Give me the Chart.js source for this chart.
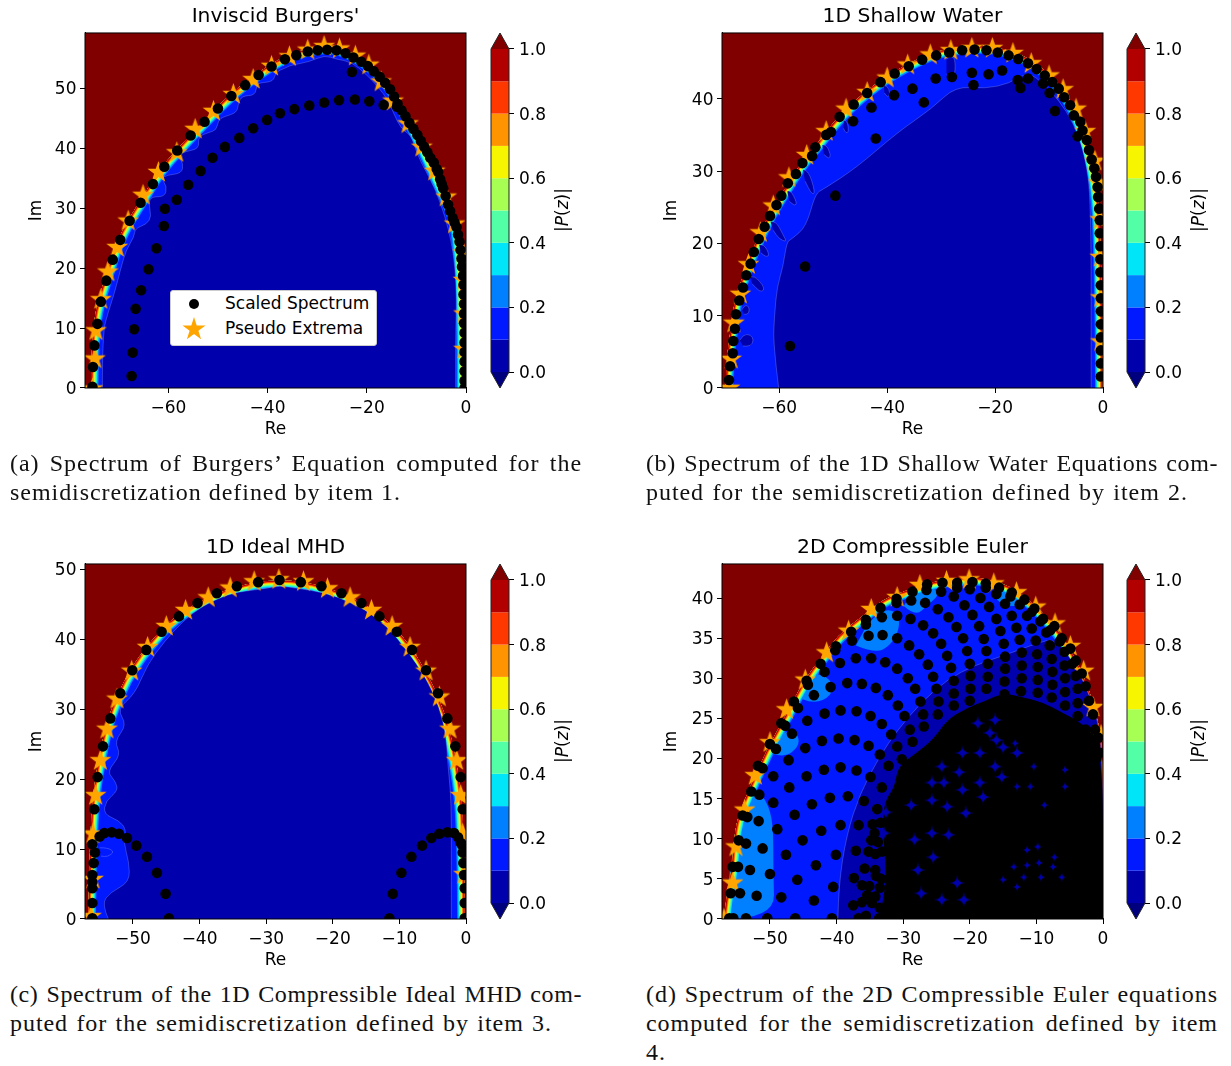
<!DOCTYPE html>
<html>
<head>
<meta charset="utf-8">
<script src="https://cdn.jsdelivr.net/npm/chart.js@4"></script>
<style>
    html, body { margin: 0; background: #fff; }
    body { position: relative; width: 1231px; height: 1066px; overflow: hidden; }
    canvas { position: absolute; }
    .cap { position: absolute; height: 29px; font: 24px/29px "Liberation Serif", serif; letter-spacing: .95px; color: #111; text-align: justify; text-align-last: justify; }
    .cap.free { text-align-last: left; }
    .barlabel { position: absolute; font: 17px "DejaVu Sans", sans-serif; color: #000; white-space: nowrap; transform: translate(-50%, -50%) rotate(-90deg); }
    #legend { position: absolute; left: 170px; top: 290px; width: 205px; height: 54px; background: #fff; border: 1px solid #ccc; border-radius: 3px; font: 17px "DejaVu Sans", sans-serif; color: #000; z-index: 3; }
    #legend span { position: absolute; left: 54px; white-space: nowrap; }
    #legend svg { position: absolute; left: 10px; }
</style>
</head>
<body>
<canvas id="burgers" width="551" height="445" style="left:0;top:0"></canvas>
<canvas id="burgersBar" width="100" height="445" style="left:481px;top:0"></canvas>
<canvas id="shallow" width="560" height="445" style="left:632px;top:0"></canvas>
<canvas id="shallowBar" width="100" height="445" style="left:1117px;top:0"></canvas>
<canvas id="mhd" width="551" height="445" style="left:0;top:531px"></canvas>
<canvas id="mhdBar" width="100" height="445" style="left:481px;top:531px"></canvas>
<canvas id="euler" width="560" height="445" style="left:632px;top:531px"></canvas>
<canvas id="eulerBar" width="100" height="445" style="left:1117px;top:531px"></canvas>

<div class="barlabel" style="left:562px;top:210px">|<i>P</i>(<i>z</i>)|</div>
<div class="barlabel" style="left:1198px;top:210px">|<i>P</i>(<i>z</i>)|</div>
<div class="barlabel" style="left:562px;top:741px">|<i>P</i>(<i>z</i>)|</div>
<div class="barlabel" style="left:1198px;top:741px">|<i>P</i>(<i>z</i>)|</div>

<div id="legend">
    <svg width="28" height="52" viewBox="0 0 28 52" style="top:0">
        <circle cx="13" cy="13" r="5" fill="#000"/>
        <polygon fill="#ffa500" points="13,26 15.7,34.5 24.5,34.5 17.4,39.8 20.1,48.2 13,43 5.9,48.2 8.6,39.8 1.5,34.5 10.3,34.5"/>
    </svg>
    <span style="top:2px">Scaled Spectrum</span>
    <span style="top:27px">Pseudo Extrema</span>
</div>

<div class="cap" style="left:10px;top:449px;width:572px">(a) Spectrum of Burgers’ Equation computed for the</div>
<div class="cap" style="left:10px;top:478px;width:391px">semidiscretization defined by item 1.</div>
<div class="cap" style="left:646px;top:449px;width:572px;letter-spacing:.6px">(b) Spectrum of the 1D Shallow Water Equations com-</div>
<div class="cap" style="left:646px;top:478px;width:542px">puted for the semidiscretization defined by item 2.</div>
<div class="cap" style="left:10px;top:980px;width:572px;letter-spacing:.6px">(c) Spectrum of the 1D Compressible Ideal MHD com-</div>
<div class="cap" style="left:10px;top:1009px;width:542px">puted for the semidiscretization defined by item 3.</div>
<div class="cap" style="left:646px;top:980px;width:572px">(d) Spectrum of the 2D Compressible Euler equations</div>
<div class="cap" style="left:646px;top:1009px;width:572px">computed for the semidiscretization defined by item</div>
<div class="cap free" style="left:646px;top:1038px;width:572px">4.</div>

<script>
// colour levels of |P(z)|
const levelEdges = [0, 0.1, 0.2, 0.3, 0.4, 0.5, 0.6, 0.7, 0.8, 0.9, 1]
const levelColors = ['#0000ad', '#0019ff', '#0080ff', '#00e5f8', '#52ffa6', '#a6ff52', '#f8f500', '#ff9400', '#ff3800', '#b20000']
const barTicks = [0, 0.2, 0.4, 0.6, 0.8, 1]

// Inviscid Burgers'
const burgersXTicks = [-60, -40, -20, 0]
const burgersYTicks = [0, 10, 20, 30, 40, 50]
const burgersSpectrum = [[-75.3,0.2],[-75.2,3.5],[-74.9,7.1],[-74.3,10.7],[-73.6,14.4],[-72.5,17.9],[-71.2,21.4],[-69.7,24.7],[-67.8,27.9],[-65.6,30.9],[-63.1,34],[-60.8,36.9],[-58.2,39.6],[-55.5,42.1],[-52.7,44.4],[-50,46.6],[-47.3,48.7],[-44.5,50.5],[-41.8,52.2],[-39.2,53.6],[-36.5,54.8],[-34.2,55.5],[-31.9,56.1],[-29.9,56.3],[-28,56.4],[-26.1,56.3],[-24.3,55.8],[-22.7,55.1],[-21.1,54.4],[-19.8,53.7],[-18.6,52.8],[-17.4,51.9],[-16.3,50.9],[-15.3,49.8],[-14.5,48.6],[-13.8,47.4],
    [-13,46.3],[-12.2,45.3],[-11.4,44.2],[-10.6,43.2],[-9.8,42.2],[-9.1,41.2],[-8.4,40.2],[-7.8,39.3],[-7.2,38.4],[-6.5,37.6],[-5.9,36.5],[-5.6,36],[-5.2,34.8],[-4.9,34],[-4.6,33.3],[-4.1,32],[-3.6,30.6],[-3.2,29.5],[-2.7,28.4],[-2.3,27.6],[-1.9,26.8],[-1.6,25.6],[-1.3,24.4],[-1.1,23],[-0.9,21.6],[-0.8,20.2],[-0.6,18.7],[-0.5,17.2],[-0.5,15.6],[-0.4,14],[-0.4,12.4],[-0.4,10.8],[-0.3,9.2],[-0.3,7.6],[-0.3,6],[-0.3,4.4],[-0.3,2.8],[-0.3,1.2],[-0.3,0],
    [-67.4,2],[-67.2,5.9],[-66.9,9.8],[-66.6,13.2],[-65.5,16.3],[-64,19.8],[-62.4,23.3],[-60.9,27],[-60.7,29.9],[-58.3,31.4],[-56,33.9],[-53.5,36.2],[-51.1,38.4],[-48.6,40.2],[-45.7,41.7],[-42.9,43.3],[-40.1,44.7],[-37.5,45.8],[-34.6,46.5],[-31.6,47.1],[-28.6,47.6],[-25.6,48],[-22.4,48.1],[-19.5,47.8],[-16.6,47.2],[-13.9,46.9],[-23,52.7]]
const burgersExtrema = [[-75.3,0],[-74.8,5],[-74.6,9.7],[-73.6,14.9],[-72.2,19.5],[-70.3,23.6],[-68.1,28],[-65.1,32.3],[-62,36.1],[-58.3,39.4],[-54.6,43.3],[-50.9,46.3],[-46.9,49.1],[-42.9,51.6],[-39.2,53.8],[-35.6,55.4],[-31.9,56.5],[-28.6,57.1],[-25.5,56.7],[-22.3,55.5],[-19.6,54],[-17.1,51.2],[-14.7,48],[-11.7,44.2],[-8.9,40.3],[-6.3,36.3],[-4,32],[-2.3,27.5],[-0.6,22.7],[-0.5,18.1],[-0.4,12.5],[-0.4,6.6]]
const burgersEdge = [[-75.6,0],[-75.5,6.3],[-74.9,11.8],[-73.8,15.7],[-72,20.2],[-70.5,24.1],[-68.2,28],[-65.1,31.9],[-62,36.3],[-58.1,39.9],[-54.3,43.3],[-50.8,46.3],[-47,49.4],[-43.1,51.9],[-39.2,54.1],[-35.4,55.8],[-31.5,56.6],[-28.5,57],[-25.4,56.7],[-22.3,55.5],[-19.6,54.1],[-16.9,52.2],[-14,49],[-11.5,45],[-9,41],[-6.2,36],[-4,32],[-2.6,29.5],[-1.7,26.8],[-1,22],[-0.6,15],[-0.4,9],[-0.4,0]]
const burgersCore = [[-73.3,0],[-73.3,9.1],[-72,13],[-70.9,15.7],[-69.5,20.2],[-68.5,23],[-66.9,25.2],[-66.7,26.6],[-64.4,27.3],[-63.4,28.6],[-64,30.8],[-63.4,31.9],[-60.7,31.9],[-60.3,33.6],[-61.4,34.9],[-60.3,35.5],[-57.3,35.8],[-57,37.4],[-58,38.8],[-56.7,39.4],[-53.8,39.9],[-54,41.9],[-51.9,42.6],[-50.3,43],[-49.9,44.7],[-48.9,45.2],[-46.2,45.9],[-45.9,47.4],[-45.2,48.7],[-42.5,48.8],[-42.2,50.5],[-41.5,50.9],[-38.8,51.1],[-38.4,52.7],[-36.5,53.3],[-35.4,53.8],[-31.5,54.4],[-28.5,55.5],[-26.1,54.8],[-23.1,54.4],[-20,52.2],[-17.7,50.2],[-15.7,48],[-14.6,45.8],[-13,43.1],[-11.1,42.2],[-9.9,39.1],[-8.4,36.6],[-6.1,33],[-4.2,28.5],[-3,24.6],[-2.2,20.2],[-1.9,14.6],[-2.1,9.1],[-2.1,0]]

// 1D Shallow Water
const shallowXTicks = [-60, -40, -20, 0]
const shallowYTicks = [0, 10, 20, 30, 40]
const shallowSpectrum = [[-69.3,1.1],[-69.1,3],[-68.6,4.8],[-68.5,6.5],[-68.2,8.2],[-68,10.2],[-67.4,12.1],[-66.7,13.9],[-66.1,15.6],[-65.3,17.2],[-64.7,18.8],[-63.8,20.6],[-62.7,22.3],[-61.7,23.8],[-60.5,25.3],[-59.6,26.6],[-58.4,28.3],[-56.9,29.6],[-55.7,31.1],[-53.9,32.1],[-53.3,33.3],[-51.3,35],[-50.4,35.4],[-48.8,37.5],[-46.3,36.9],[-46.2,39.2],[-43.7,40.8],[-42.9,38.8],[-41.2,42.3],[-38.7,40.5],[-38.6,43.5],[-36,44.5],[-35.3,41.4],[-33.5,45.4],[-33.2,39.5],[-30.9,46],[-31,42.8],[-28.5,46.4],[-28,43],[-26.1,46.7],[-23.8,46.8],[-21.6,46.7],[-19.5,46.4],[-17.5,46],[-15.7,45.5],[-13.9,44.9],[-12.3,44.1],[-10.8,43.2],[-9.4,42.3],[-8.2,41.4],[-7.2,40.2],[-6.1,39.1],[-5.4,37.7],[-4.2,36.8],[-3.8,35.6],[-3,34.3],[-2.6,32.9],[-2.1,31.6],[-1.6,30.4],[-1.3,29.2],[-1,27.8],[-0.9,26.4],[-0.7,24.8],[-0.6,23.2],[-0.6,21.4],[-0.5,19.6],[-0.5,17.8],[-0.5,16],[-0.4,14.2],[-0.4,12.4],[-0.4,10.6],[-0.4,8.8],[-0.4,7],[-0.4,5.2],[-0.4,3.4],[-0.4,1.6],
    [-58,5.8],[-55.2,16.8],[-49.6,26.6],[-42.1,34.5],[-24.3,43.6],[-24,41.9],[-21.2,43.4],[-18.7,43.9],[-15.8,42.6],[-15.3,41.5],[-13.9,42.8],[-11.1,42.1],[-9.9,40.8],[-8.9,38.3],[-4.7,34.8]]
const shallowExtrema = [[-69.2,0.1],[-68.9,4.1],[-68.4,9.1],[-67.2,13.1],[-65.7,17.2],[-63.5,21.6],[-61.1,25.3],[-58.2,29.2],[-54.9,32.3],[-51.3,35.6],[-47.6,38.7],[-43.7,41],[-40,43],[-36.2,44.8],[-32,46.2],[-28.2,46.8],[-24.3,47.1],[-20.5,47.1],[-16.7,46.4],[-13.3,45],[-10,43.3],[-7.4,41.4],[-5,38.7],[-3.3,35.6],[-1.5,31.5],[-0.8,28.5],[-0.5,23.4],[-0.5,18.2],[-0.4,12.6],[-0.4,6.5]]
const shallowEdge = [[-69.9,0],[-69.8,3.8],[-69.1,7.5],[-68.5,11.2],[-67.4,14],[-66,17.2],[-63.9,20.9],[-61.8,24.1],[-59.3,27.1],[-56.5,30.6],[-52.9,33.8],[-50.1,36.6],[-47.2,38.9],[-43.7,41.2],[-39.8,43.3],[-35.9,44.9],[-32,46.3],[-28.1,47],[-24.2,47.3],[-20.3,47.2],[-16.4,46.5],[-13.2,45.3],[-10,43.5],[-7.5,41.4],[-5,38.4],[-3.3,34.7],[-1.8,30.6],[-0.8,26],[-0.4,19],[-0.1,7.5],[-0.1,0]]
const shallowCore = [[-60.1,0],[-61.1,6.1],[-60.9,9.8],[-60.4,14],[-59.3,16.7],[-58.6,20.2],[-57.7,20.6],[-55,22.3],[-53.3,26.9],[-51.8,27.5],[-45.8,30.4],[-38,35.4],[-31.6,38.7],[-27.4,41.7],[-21.7,41.4],[-17.4,42.1],[-13.9,43.7],[-11,42.1],[-8.2,39.8],[-5.4,36.6],[-3.3,32],[-2.2,26],[-2.2,0]]
const shallowIslands = [
    [[-67.3,6.6],[-66.7,7.4],[-65.3,7.4],[-64.7,6.6],[-65.3,5.8],[-66.7,5.8]],
    [[-65.3,15.4],[-64.5,15.5],[-63,14.2],[-62.8,13.5],[-63.6,13.3],[-65,14.4]],
    [[-63.7,19.8],[-62.8,19.9],[-61.8,18.4],[-62.4,18.1],[-63.4,18.7]],
    [[-66.9,10.8],[-66.5,11.4],[-65.8,11.4],[-65.5,10.8],[-65.8,10.2],[-66.5,10.2]],
    [[-58.5,27.2],[-57.9,27.4],[-56.7,25.6],[-57.1,25.2],[-58.1,25.8]],
    [[-52,33.6],[-51.3,33.7],[-50.4,32.2],[-50.8,31.7],[-51.7,32.3]],
    [[-48,37],[-47.4,37],[-47.1,35.5],[-47.6,35.2],[-48.1,35.9]],
    [[-29,45.5],[-28.2,45.9],[-27.4,45.5],[-27.4,43.4],[-28.2,43],[-29,43.4]],
    [[-40.6,41.8],[-40,41.9],[-39.4,40.7],[-39.9,40.2],[-40.5,40.8]],
    [[-61.6,23],[-60.6,23.1],[-59.3,21.2],[-58.6,20.2],[-60,20.6],[-61.1,21.8]],
    [[-55.6,30.2],[-54.6,30.2],[-53.3,27],[-54,26.8],[-55.2,28.6]]
]

// 1D Ideal MHD
const mhdXTicks = [-50, -40, -30, -20, -10, 0]
const mhdYTicks = [0, 10, 20, 30, 40, 50]
const mhdSpectrum = [[-56.1,0.1],[-56.1,2.3],[-56.1,4.4],[-56.1,5.3],[-56.1,6.3],[-55.9,8],[-55.7,9.5],[-56.1,10.7],[-55.8,15.7],[-55.3,20.3],[-54.5,24.7],[-53.4,28.7],[-51.9,32.3],[-50.1,35.6],[-48,38.5],[-45.7,41.1],[-43.1,43.3],[-40.3,45.2],[-37.4,46.6],[-34.4,47.6],[-31.2,48.2],[-28,48.5],[-24.8,48.2],[-21.7,47.6],[-18.7,46.6],[-15.7,45.2],[-13,43.3],[-10.4,41.1],[-8.1,38.5],[-6,35.6],[-4.2,32.3],[-2.8,28.7],[-1.6,24.7],[-0.8,20.3],[-0.5,15.7],[-0.6,10.6],[-0.5,9.5],[-0.4,8],[-0.3,6.3],[-0.2,4.4],[-0.2,2.3],[-0.2,0.1],
    [-55,11.8],[-54.3,12.3],[-53.2,12.4],[-52.1,12.2],[-50.9,11.6],[-49.5,10.5],[-47.9,8.9],[-46.4,6.6],[-45.1,3.6],[-44.6,0.1],
    [-11.5,0.1],[-11,3.6],[-9.7,6.6],[-8.2,8.9],[-6.6,10.5],[-5.2,11.6],[-4,12.2],[-2.8,12.4],[-1.8,12.3],[-1.2,11.7],[-0.8,10.9]]
const mhdExtrema = [[-56.3,0.5],[-56,5.8],[-56,12.3],[-55.6,17.8],[-54.9,22.8],[-53.9,27.3],[-52.4,31.6],[-50.2,35.6],[-47.8,39],[-45,42],[-42.1,44.3],[-38.7,46.1],[-35.4,47.5],[-31.8,48.4],[-28.1,48.7],[-24.4,48.4],[-20.8,47.4],[-17.4,46.1],[-14.2,44.3],[-11.1,42],[-8.4,39],[-6,35.6],[-4,31.9],[-2.4,27.3],[-1.4,22.8],[-0.8,17.8],[-0.5,12.3],[-0.3,6.5]]
const mhdEdge = [[-56.7,0],[-56.6,5.3],[-56.4,12.1],[-56,17.9],[-55.2,22.7],[-54,28.1],[-52.2,32.4],[-50.2,36.1],[-47.6,39.4],[-44.8,42.4],[-41.9,44.4],[-38.4,46.2],[-35,47.4],[-31.6,48.2],[-28.1,48.5],[-24.7,48.3],[-21.2,47.5],[-17.5,46.2],[-14,44.3],[-10.9,41.9],[-8.3,39],[-6,35.3],[-4.1,31.7],[-2.5,27.3],[-1.4,22.3],[-0.6,16.9],[-0.3,9.7],[-0.2,0]]
const mhdCore = [[-53.7,0],[-54.7,2.2],[-53.4,3.8],[-50.5,5.3],[-50.6,8.2],[-51.4,10.9],[-51,12.8],[-52.1,14.1],[-54.4,15],[-54.1,16.9],[-52.2,18.4],[-52.7,19.8],[-53.9,21.1],[-51.8,23.5],[-52.8,25.4],[-50.9,27.8],[-52.4,30],[-49.7,32.2],[-47.9,36.3],[-45.3,39.7],[-42.5,42.6],[-39.6,44.8],[-35.6,46.5],[-32.7,47],[-29.8,47.3],[-28.1,47.7],[-25.2,47.3],[-21.2,46.7],[-17.2,45.3],[-13.2,43.1],[-10.3,40.2],[-7.4,36.5],[-5.1,32.9],[-3.1,27.6],[-2.7,21.8],[-2.2,16.9],[-2.2,7.3],[-2.2,0]]
const mhdIsland = [[-55,10.2],[-53.8,10.2],[-52.8,9.6],[-53.8,8.9],[-54.8,9]]

// 2D Compressible Euler
const eulerXTicks = [-50, -40, -30, -20, -10, 0]
const eulerYTicks = [0, 5, 10, 15, 20, 25, 30, 35, 40]
const eulerSpectrum = [[-56.1,0.1],[-55.5,0.1],[-53.6,0.1],[-50.4,0.1],[-46.2,0.1],[-40.7,0.1],[-36.7,0.1],[-33.6,0.1],[-55.9,3.2],[-54.5,3.2],[-52,2.9],[-48.3,2.7],[-43.4,2.3],[-37.5,1.7],[-36.2,2.1],[-34.7,2],[-40.5,4],[-45.9,4.9],[-50,5.6],[-53,6.1],[-55.6,6.5],[-54.8,6.5],[-43.1,6.7],[-47.6,8],[-51.1,8.8],[-53.6,9.4],[-54.7,9.8],[-40.1,8],[-37.1,8.5],[-35.2,8.4],[-34.2,8.1],[-37.4,5.1],[-36.2,4.2],[-35.1,4.1],[-35.8,6.3],[-34.2,6.1],[-34.1,5.4],[-33.5,3.9],[-45.1,9.8],[-42.3,11],[-48.9,11.2],[-51.7,12.2],[-54.1,12.9],[-53.4,12.7],[-39.4,11.7],[-36.7,11.7],[-34.3,10.7],[-46.3,13],[-43.7,14.3],[-41,15.1],[-38.3,15.3],[-35.9,14.7],[-33.9,13.7],[-49.5,14.5],[-51.6,15.5],[-52.8,15.9],[-47.1,16.4],[-44.5,17.8],[-41.9,18.6],[-39.4,18.9],[-37,18.5],[-34.9,17.7],[-33.2,16.4],[-49.5,17.8],[-51.1,18.8],[-51.8,19.1],[-47.2,19.8],[-44.7,21.3],[-42.2,22.2],[-39.7,22.5],[-37.3,22.3],[-35.2,21.6],[-33.5,20.5],[-32.2,19.1],[-49.1,21.2],[-50,21.8],[-46.7,23.1],[-44.4,24.7],[-41.8,25.6],[-39.4,26],[-37,25.9],[-34.9,25.3],[-33.2,24.3],[-31.8,23],[-30.9,21.5],[-30.2,19.9],[-48.3,24.4],[-47.7,24.1],[-46.4,27.1],[-45.8,26.3],[-43.4,27.9],[-40.9,28.9],[-38.4,29.4],[-36.2,29.3],[-34.1,28.8],[-32.3,27.9],[-30.8,26.6],[-29.8,25.3],[-29,23.6],[-28.6,22.1],[-44.5,29.7],[-44.3,29.2],[-42.4,31.8],[-41.8,30.8],[-39.5,31.9],[-37.1,32.5],[-34.8,32.5],[-32.7,32],[-30.9,31.2],[-29.3,30],[-28.2,28.7],[-27.4,27.1],[-27,25.5],[-26.9,24],[-40.1,34],[-40.2,33.5],[-37.8,35.8],[-37.7,34.7],[-35.2,35.3],[-33.1,35.4],[-30.9,35],[-29.1,34.1],[-27.6,33],[-26.3,31.7],[-25.5,30.2],[-25,28.7],[-24.7,27.1],[-24.8,25.5],[-35.6,37.3],[-35.6,36.7],[-33.4,38.8],[-33.2,37.6],[-30.9,37.8],[-28.9,37.4],[-27,36.6],[-25.5,35.6],[-24.3,34.3],[-23.4,32.8],[-22.8,31.3],[-22.4,29.7],[-22.4,28.1],[-22.4,26.6],[-31,39.9],[-31,39.4],[-28.6,40.8],[-28.8,39.7],[-26.7,39.4],[-24.8,38.6],[-23.2,37.6],[-22,36.4],[-21,35],[-20.4,33.4],[-20,31.8],[-19.9,30.3],[-19.9,28.7],[-20,27.2],[-26.4,41.7],[-26.5,41],[-24.3,40.8],[-24.1,41.9],[-22.4,40.2],[-20.8,39.1],[-19.6,37.9],[-18.6,36.5],[-17.9,34.9],[-17.5,33.4],[-17.3,31.8],[-17.3,30.2],[-17.5,28.7],[-21.9,41.9],[-21.9,41.3],[-20,41.1],[-19.6,42],[-18.4,40],[-17.1,38.9],[-16,37.4],[-15.4,35.9],[-14.9,34.3],[-14.7,32.7],[-14.7,31.2],[-14.8,29.6],[-14.8,28],[-17.6,41.8],[-17.6,41.3],[-15.6,41.3],[-16,40.5],[-14.7,39.3],[-13.7,37.8],[-13,36.3],[-12.5,34.8],[-12.2,33.2],[-12.2,31.6],[-12.2,30],[-12.3,28.4],[-13.7,40.7],[-13.9,40.2],[-11.8,39.8],[-12.5,39.2],[-11.4,37.8],[-10.7,36.2],[-10.1,34.7],[-9.9,33],[-9.8,31.4],[-9.8,29.8],[-9.8,28.2],[-10.3,38.7],[-10.7,38.3],[-9,37.4],[-9.4,37.1],[-7.3,36.5],[-7.9,36],[-8.5,35.7],[-8,34.1],[-7.7,32.4],[-7.6,30.8],[-7.6,29.2],[-7.7,27.6],[-6.2,35],[-6.5,34.6],[-4.9,33.7],[-5.8,33.3],[-5.8,31.6],[-5.7,30],[-5.7,28.3],[-5.7,26.6],[-4.1,32.2],[-4.6,31.8],[-3.2,30.6],[-4.1,30.3],[-2.6,29],[-3.8,28.7],[-2.1,27.2],[-3.8,26.9],[-1.5,25.5],[-3.8,25.3],[-1.2,23.6],[-2.6,23.6],[-0.7,22.6],[-1.2,21.6],[-0.5,20.7],[-1,20],
    [-33.4,12],[-34.6,11.8],[-33.8,9.6],[-34.8,9.8],[-33.2,8.4],[-33.3,5],[-34.2,2.8],[-35.4,3],[-33.5,1.4],[-35.6,0.4]]
const eulerExtrema = [[-56.9,0.1],[-55.6,4.6],[-55.1,9.1],[-53.8,13.7],[-52.2,18],[-50,22.1],[-47.5,26.2],[-44.7,29.9],[-41.5,33.3],[-38.2,36],[-34.8,38.7],[-30.9,40.2],[-27.5,41.7],[-23.5,42.2],[-20.1,42.4],[-16.4,41.9],[-13,40.8],[-10.1,39],[-7.2,36.9],[-4.9,34.1],[-2.9,31],[-1.5,26.5],[-0.3,23]]
// the overlapping dots merge into one black mass; the gap lists are the spots left uncovered in it
const eulerDense = [[-33.6,0],[-32.8,2.9],[-32.6,6.3],[-33.1,11.4],[-32.8,14.7],[-31.3,16.4],[-30.8,19],[-28.2,20.6],[-25.6,22.3],[-23.3,24.9],[-20.4,26.3],[-17.6,27.2],[-15,28.2],[-11.8,27.6],[-9,27],[-6.1,25.7],[-3.8,24.7],[0,22.3],[0,0]]
const eulerGapsWide = [[-25.7,14.8],[-23.9,17],[-21.1,16.1],[-18.5,17],[-16.2,19],[-16,22.3],[-25.7,10.7],[-23.2,10.5],[-28.8,14.2],[-32.6,13.3],[-32.9,10.7],[-28.3,9.9],[-25.5,7.7],[-27.8,6.1],[-27.3,3.2],[-21.9,4.5],[-24.2,2.4],[-20.9,2.4],[-18.8,24.4],[-16.2,24.8],[-21.1,20.7],[-18.5,20.7],[-24.2,19],[-25.7,17],[-17,23.2],[-15,21.4],[-12.9,20.7],[-15.2,17.7],[-18,15.2],[-20.6,13.2],[-23.4,14],[-21.6,18.3]]
const eulerGapsThin = [[-13.2,21.9],[-10.4,19],[-10.9,16.5],[-8.8,14.2],[-12.9,16.5],[-5.7,16.5],[-5.7,18.6],[-11.4,8.6],[-9.8,9],[-13.4,6.5],[-11.4,6.7],[-9.6,7],[-7.3,7.7],[-7.5,6.5],[-11.9,5.2],[-15,4.9],[-9.3,5.2],[-6.2,5.2],[-12.9,4]]
const eulerEdge = [[-56.9,0],[-56.6,2.5],[-55.7,6.3],[-55.5,9.3],[-54.9,12.6],[-53.2,16],[-51.4,19.4],[-49.7,22.3],[-47.4,25.7],[-45.1,29.5],[-42.2,32.7],[-39.7,35.4],[-36.5,37.5],[-33.1,39.8],[-29.6,40.9],[-26.2,41.9],[-22.7,42.4],[-19.3,42.6],[-15.8,42.1],[-12.4,40.7],[-9.2,38.3],[-6.4,35.6],[-4.1,32.4],[-2.1,28.7],[-0.6,24.4],[0,19.8],[0,0]]
const eulerCore = [[-39.8,0],[-39.7,4.2],[-38.5,10.5],[-36.5,15.6],[-33.6,20.2],[-30.8,23.6],[-27.3,27],[-23.3,29.9],[-19.3,31.6],[-14.7,32.9],[-10.1,34.3],[-7.2,35],[-4.4,32],[-2.1,28.2],[0,22.3],[0,0]]
const eulerPatches = [
    [[-56.9,0],[-49.3,0],[-49.5,6],[-49.5,12],[-50.5,14.7],[-52,16],[-54,15],[-55.5,9],[-56.6,2.5]],
    [[-49.7,20.6],[-47.7,20.1],[-45.7,21.5],[-45.7,22.8],[-46.8,23.6],[-48.9,22.8]],
    [[-45.1,27.4],[-43.4,26.8],[-40.8,27.8],[-40.5,29.5],[-42.8,30.8],[-44.8,29.5]],
    [[-37.1,34.1],[-34.2,33.1],[-31.9,34.1],[-30.5,36.2],[-30.8,38.3],[-33.1,38.6],[-35.4,36.7]],
    [[-29.9,39],[-28.2,37.7],[-26.2,39.2],[-24.5,40.5],[-25.6,41.3],[-29,40.2]],
    [[-16.4,40.5],[-15.8,39.4],[-13.5,38.9],[-11.3,39.4],[-13,40.5],[-14.7,40.9]]
]

const overColor = '#800000'
const underColor = '#00007f'
const rainbow = [
    ['#0080ff', 15], ['#00e5f8', 12.5], ['#52ffa6', 10.5], ['#a6ff52', 8.5], ['#f8f500', 6.5],
    ['#ff9400', 5], ['#ff3800', 3.5], ['#b20000', 2]
]
const fontName = '"DejaVu Sans", sans-serif'

function pairs(list) {
    return list.map(p => ({ x: p[0], y: p[1] }))
}

function minusLabel(value) {
    return String(value).replace('-', '\u2212')
}

function starImage(radius) {
    const c = document.createElement('canvas')
    c.width = c.height = Math.ceil(radius * 2) + 2
    const ctx = c.getContext('2d')
    ctx.fillStyle = '#ffa500'
    ctx.translate(c.width / 2, c.height / 2 + radius * 0.08)
    ctx.beginPath()
    for (let i = 0; i < 10; i++) {
        const r = i % 2 ? radius * 0.4 : radius
        const a = -Math.PI / 2 + i * Math.PI / 5
        ctx.lineTo(r * Math.cos(a), r * Math.sin(a))
    }
    ctx.closePath()
    ctx.fill()
    return c
}

// the hole left between four touching dots
function gapImage(radius) {
    const c = document.createElement('canvas')
    c.width = c.height = Math.ceil(radius * 2)
    const ctx = c.getContext('2d')
    const m = c.width / 2
    ctx.fillStyle = '#0000ad'
    ctx.beginPath()
    ctx.moveTo(m, m - radius)
    ctx.quadraticCurveTo(m, m, m + radius, m)
    ctx.quadraticCurveTo(m, m, m, m + radius)
    ctx.quadraticCurveTo(m, m, m - radius, m)
    ctx.quadraticCurveTo(m, m, m, m - radius)
    ctx.fill()
    return c
}

// contour regions: a dataset's points are placed by the scales, this only paints between them
function regionPath(points, smooth, closed) {
    const path = new Path2D()
    path.moveTo(points[0].x, points[0].y)
    for (let i = 1; i < points.length - 1; i++) {
        if (smooth) {
            const midX = (points[i].x + points[i + 1].x) / 2
            const midY = (points[i].y + points[i + 1].y) / 2
            path.quadraticCurveTo(points[i].x, points[i].y, midX, midY)
        } else {
            path.lineTo(points[i].x, points[i].y)
        }
    }
    path.lineTo(points[points.length - 1].x, points[points.length - 1].y)
    if (closed) path.closePath()
    return path
}

const contourPlugin = {
    id: 'contours',
    beforeDatasetsDraw(chart, args, opts) {
        const { ctx, chartArea: area } = chart
        ctx.save()
        ctx.beginPath()
        ctx.rect(area.left - 1, area.top - 1, area.right - area.left + 2, area.bottom - area.top + 2)
        ctx.clip()
        if (opts.background) {
            ctx.fillStyle = opts.background
            ctx.fillRect(area.left, area.top, area.right - area.left, area.bottom - area.top)
        }
        chart.data.datasets.forEach((ds, i) => {
            if (!ds.region) return
            const points = chart.getDatasetMeta(i).data
            const path = regionPath(points, ds.smooth, true)
            const openPath = regionPath(points, ds.smooth, false)
            if (ds.fillColor) {
                ctx.fillStyle = ds.fillColor
                ctx.fill(path)
            }
            if (ds.rainbow) {
                ctx.save()
                ctx.clip(path)
                ctx.lineJoin = 'round'
                rainbow.forEach(([color, width]) => {
                    ctx.strokeStyle = color
                    ctx.lineWidth = width
                    ctx.stroke(openPath)
                })
                ctx.restore()
            }
            if (ds.hairline) {
                ctx.strokeStyle = 'rgba(200,215,255,0.35)'
                ctx.lineWidth = 0.7
                ctx.stroke(openPath)
            }
            if (ds.outline) {
                ctx.strokeStyle = ds.outline
                ctx.lineWidth = 1
                ctx.stroke(path)
            }
        })
        ctx.restore()
    },
    afterDatasetsDraw(chart, args, opts) {
        if (!opts.frame) return
        const { ctx, chartArea: area } = chart
        ctx.save()
        ctx.strokeStyle = '#000'
        ctx.lineWidth = 1
        ctx.strokeRect(area.left, area.top, area.right - area.left, area.bottom - area.top)
        ctx.restore()
    }
}

function region(list, color, extra) {
    return Object.assign({
        data: pairs(list), region: true, smooth: true, fillColor: color,
        showLine: false, pointRadius: 0
    }, extra || {})
}

function drawPanel(id, titleText, xMin, yMax, xTicks, yTicks, space, marks, regions) {
    const datasets = [
        { label: 'Scaled Spectrum', data: pairs(marks.spectrum), showLine: false, pointRadius: 5.3, pointBackgroundColor: '#000', pointBorderWidth: 0 }
    ]
    if (marks.gapsWide) {
        datasets.push({ label: 'uncovered', data: pairs(marks.gapsWide), showLine: false, pointStyle: gapImage(8) })
        datasets.push({ label: 'uncovered thin', data: pairs(marks.gapsThin), showLine: false, pointStyle: gapImage(5) })
    }
    datasets.push({ label: 'Pseudo Extrema', data: pairs(marks.extrema), showLine: false, pointStyle: starImage(11.5) })

    new Chart(document.getElementById(id), {
        type: 'scatter',
        data: { datasets: datasets.concat(regions) },
        plugins: [contourPlugin],
        options: {
            responsive: false,
            animation: false,
            events: [],
            layout: { padding: { left: 0, right: space.right, top: 0, bottom: 0 } },
            plugins: {
                legend: { display: false },
                tooltip: { enabled: false },
                title: {
                    display: true, text: titleText, color: '#000', fullSize: false,
                    font: { family: fontName, size: 20.3, weight: 'normal' },
                    padding: { top: 5, bottom: 3.6 }
                },
                contours: { background: overColor, frame: true }
            },
            scales: {
                x: {
                    type: 'linear', min: xMin, max: 0,
                    afterBuildTicks: s => { s.ticks = xTicks.map(v => ({ value: v })) },
                    afterFit: s => { s.height = 57 },
                    grid: { drawOnChartArea: false, tickLength: 5, tickColor: '#000' },
                    border: { color: '#000' },
                    ticks: { color: '#000', font: { family: fontName, size: 17 }, padding: 5, maxRotation: 0, callback: minusLabel },
                    title: { display: true, text: 'Re', color: '#000', font: { family: fontName, size: 17 }, padding: { top: 0, bottom: 4.8 } }
                },
                y: {
                    type: 'linear', min: 0, max: yMax,
                    afterBuildTicks: s => { s.ticks = yTicks.map(v => ({ value: v })) },
                    afterFit: s => { s.width = space.left },
                    grid: { drawOnChartArea: false, tickLength: 5, tickColor: '#000' },
                    border: { color: '#000' },
                    ticks: { color: '#000', font: { family: fontName, size: 17 }, padding: 3.5, labelOffset: 1.5, callback: minusLabel },
                    title: { display: true, text: 'Im', color: '#000', font: { family: fontName, size: 17 }, padding: { top: space.title, bottom: 0 } }
                }
            }
        }
    })
}

function drawColorbar(id) {
    const datasets = levelColors.map((color, i) => region(
        [[0, levelEdges[i]], [1, levelEdges[i]], [1, levelEdges[i + 1]], [0, levelEdges[i + 1]]],
        color, { smooth: false }
    ))
    datasets.push(region([[0, 1], [0.5, 1.0495], [1, 1]], overColor, { smooth: false }))
    datasets.push(region([[0, 0], [0.5, -0.0495], [1, 0]], underColor, { smooth: false }))
    datasets.push(region([[0, 0], [0.5, -0.0495], [1, 0], [1, 1], [0.5, 1.0495], [0, 1]], null, { smooth: false, outline: '#222' }))

    new Chart(document.getElementById(id), {
        type: 'scatter',
        data: { datasets: datasets },
        plugins: [contourPlugin],
        options: {
            responsive: false,
            animation: false,
            events: [],
            layout: { padding: { left: 10, right: 0, top: 33, bottom: 57 } },
            plugins: { legend: { display: false }, tooltip: { enabled: false }, contours: {} },
            scales: {
                x: { type: 'linear', min: 0, max: 1, display: false },
                y: {
                    type: 'linear', position: 'right', min: -0.0495, max: 1.0495,
                    afterBuildTicks: s => { s.ticks = barTicks.map(v => ({ value: v })) },
                    afterFit: s => { s.width = 72 },
                    grid: { drawOnChartArea: false, tickLength: 5, tickColor: '#000' },
                    border: { display: false },
                    ticks: { color: '#000', font: { family: fontName, size: 17 }, padding: 5, labelOffset: 1.5, callback: v => v.toFixed(1) }
                }
            }
        }
    })
}

const leftSpace = { left: 85, right: 85, title: 26.8 }
const rightSpace = { left: 90, right: 89, title: 29.8 }

drawPanel('burgers', "Inviscid Burgers'", -76.8, 59.2, burgersXTicks, burgersYTicks, leftSpace,
    { spectrum: burgersSpectrum, extrema: burgersExtrema },
    [
        region(burgersEdge, levelColors[1], { rainbow: true }),
        region(burgersCore, levelColors[0], { hairline: true })
    ])

drawPanel('shallow', '1D Shallow Water', -70.6, 49.1, shallowXTicks, shallowYTicks, rightSpace,
    { spectrum: shallowSpectrum, extrema: shallowExtrema },
    [
        region(shallowEdge, levelColors[1], { rainbow: true }),
        region(shallowCore, levelColors[0], { hairline: true })
    ].concat(shallowIslands.map(p => region(p, levelColors[0], { hairline: true }))))

drawPanel('mhd', '1D Ideal MHD', -57.2, 50.8, mhdXTicks, mhdYTicks, leftSpace,
    { spectrum: mhdSpectrum, extrema: mhdExtrema },
    [
        region(mhdEdge, levelColors[1], { rainbow: true }),
        region(mhdCore, levelColors[0], { hairline: true }),
        region(mhdIsland, levelColors[1], { hairline: true })
    ])

drawPanel('euler', '2D Compressible Euler', -57.2, 44.25, eulerXTicks, eulerYTicks, rightSpace,
    { spectrum: eulerSpectrum, extrema: eulerExtrema, gapsWide: eulerGapsWide, gapsThin: eulerGapsThin },
    [region(eulerEdge, levelColors[1])]
        .concat(eulerPatches.map(p => region(p, levelColors[2])))
        .concat([
            region(eulerEdge, null, { rainbow: true }),
            region(eulerCore, levelColors[0], { hairline: true }),
            region(eulerDense, '#000', {})
        ]))

drawColorbar('burgersBar')
drawColorbar('shallowBar')
drawColorbar('mhdBar')
drawColorbar('eulerBar')
</script>
</body>
</html>
